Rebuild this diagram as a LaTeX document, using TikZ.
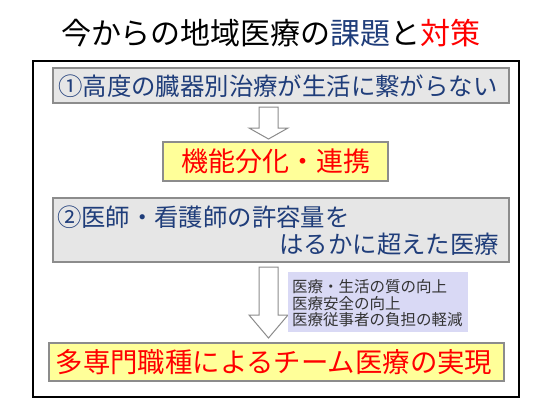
\documentclass[tikz,border=0pt]{standalone}
\usepackage{fontspec}
\setmainfont{Noto Sans CJK JP}
\newfontfamily\jp{Noto Sans CJK JP}
\definecolor{navy}{HTML}{1F3D7A}
\definecolor{boxgray}{HTML}{E6E6E6}
\definecolor{edgegray}{HTML}{8C8C8C}
\definecolor{pyellow}{HTML}{FFFF99}
\definecolor{lav}{HTML}{D9D9F5}
\definecolor{txtgray}{HTML}{333333}
\begin{document}
\begin{tikzpicture}[x=1pt,y=-1pt,
  graybox/.style={draw=edgegray,fill=boxgray,line width=1.2pt},
  yelbox/.style={draw=edgegray,fill=pyellow,line width=1.2pt},
  hollowarrow/.style={draw=edgegray,fill=white,line width=1pt,line join=miter},
  lbl/.style={inner sep=0pt,outer sep=0pt}]
\useasboundingbox (0,0) rectangle (550,413);
\fill[white] (0,0) rectangle (550,413);
% title
\node[lbl,font=\jp\fontsize{30pt}{32pt}\selectfont] (title) at (271,33)
  {今からの地域医療の\textcolor{navy}{課題}と\textcolor{red}{対策}};
% outer frame
\draw[black,line width=1.6pt] (33,61) rectangle (519,397);
% box 1
\draw[graybox] (53,68) rectangle (509,103);
\node[lbl,text=navy,font=\jp\fontsize{24.4pt}{26pt}\selectfont] (t1) at (278,86)
  {①高度の臓器別治療が生活に繋がらない};
% arrow 1
\draw[hollowarrow] (259,107) -- (278,107) -- (278,128) -- (288,128) -- (268.5,139)
  -- (249,128) -- (259,128) -- cycle;
% box 2
\draw[yelbox] (163,142) rectangle (388,181);
\node[lbl,text=red,font=\jp\fontsize{27pt}{29pt}\selectfont] (t2) at (276,161.5)
  {機能分化・連携};
% box 3
\draw[graybox] (53,198) rectangle (509,262);
\node[lbl,anchor=west,text=navy,font=\jp\fontsize{24.4pt}{26pt}\selectfont] (t3a) at (57,217)
  {②医師・看護師の許容量を};
\node[lbl,anchor=east,text=navy,font=\jp\fontsize{24.4pt}{26pt}\selectfont] (t3b) at (499,244)
  {はるかに超えた医療};
% arrow 2
\draw[hollowarrow] (259,267) -- (278,267) -- (278,315) -- (288,315) -- (268.5,338)
  -- (249,315) -- (259,315) -- cycle;
% lavender note
\fill[lav] (288,272) rectangle (468,332);
\node[lbl,anchor=west,text=txtgray,font=\jp\fontsize{15.5pt}{17pt}\selectfont] (n1) at (292,287)
  {医療・生活の質の向上};
\node[lbl,anchor=west,text=txtgray,font=\jp\fontsize{15.5pt}{17pt}\selectfont] (n2) at (292,303.5)
  {医療安全の向上};
\node[lbl,anchor=west,text=txtgray,font=\jp\fontsize{15.5pt}{17pt}\selectfont] (n3) at (292,320)
  {医療従事者の負担の軽減};
% box 4
\draw[yelbox] (49,343) rectangle (504,381);
\node[lbl,text=red,font=\jp\fontsize{27.4pt}{29pt}\selectfont] (t4) at (274,362)
  {多専門職種によるチーム医療の実現};
\end{tikzpicture}
\end{document}
